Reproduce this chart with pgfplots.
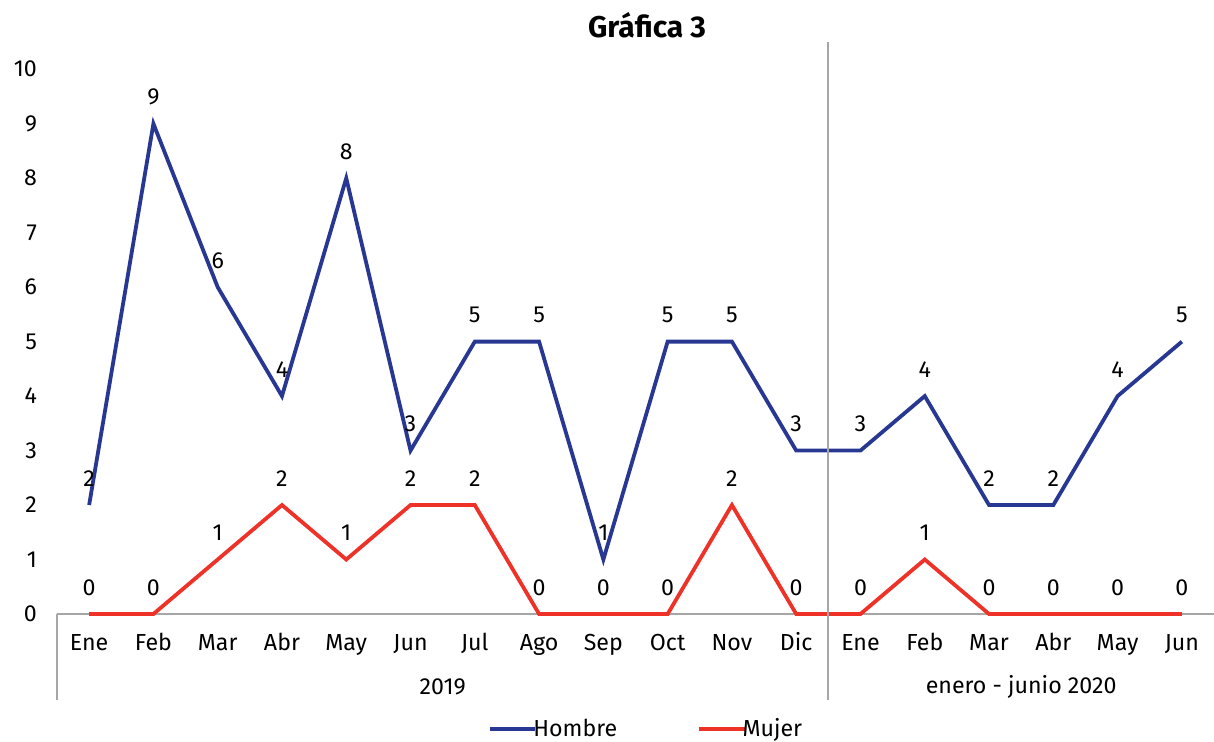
\documentclass[border=0pt]{standalone}
\usepackage{pgfplots}
\pgfplotsset{compat=1.18}
\usepackage{fontspec}
\setmainfont{Fira Sans}
\definecolor{hblue}{RGB}{40,56,146}
\definecolor{mred}{RGB}{238,50,40}
\definecolor{axgray}{RGB}{166,166,166}
\begin{document}
\begin{tikzpicture}
\useasboundingbox (-28.5pt,-64pt) rectangle (578.5pt,307pt);
\begin{axis}[
  scale only axis,
  width=578.5pt, height=286pt,
  xmin=-0.5, xmax=17.5, ymin=0, ymax=10.5,
  clip=false,
  font=\fontsize{11.6}{14}\selectfont,
  /pgf/number format/assume math mode=true,
  xtick={0,...,17},
  xticklabels={Ene,Feb,Mar,Abr,May,Jun,Jul,Ago,Sep,Oct,Nov,Dic,Ene,Feb,Mar,Abr,May,Jun},
  ytick={0,...,10},
  major tick length=0pt,
  axis x line*=bottom, axis y line*=left,
  x axis line style={draw=axgray, line width=1pt, -},
  y axis line style={draw=none},
  xticklabel style={anchor=base, yshift=-18.5pt},
  yticklabel style={xshift=-6.5pt},
  nodes near coords,
  every node near coord/.append style={black, yshift=5pt, font=\fontsize{11.6}{14}\selectfont},
  legend style={at={(0.51,-0.201)}, anchor=center, draw=none, legend columns=2,
    /tikz/every even column/.append style={column sep=38pt}, font=\fontsize{11.6}{14}\selectfont,
    inner xsep=0pt},
  legend image code/.code={\draw[#1] (0cm,0cm) -- (0.8cm,0cm);},
]
\addplot[hblue, line width=1.9pt, mark=none] coordinates {
(0,2) (1,9) (2,6) (3,4) (4,8) (5,3) (6,5) (7,5) (8,1) (9,5) (10,5) (11,3)
(12,3) (13,4) (14,2) (15,2) (16,4) (17,5)};
\addlegendentry{\hspace{-4pt}Hombre}
\addplot[mred, line width=1.9pt, mark=none] coordinates {
(0,0) (1,0) (2,1) (3,2) (4,1) (5,2) (6,2) (7,0) (8,0) (9,0) (10,2) (11,0)
(12,0) (13,1) (14,0) (15,0) (16,0) (17,0)};
\addlegendentry{\hspace{-4pt}Mujer}
\draw[axgray, line width=1pt] (axis cs:11.5,10.5) -- ([yshift=-43pt]axis cs:11.5,0);
\draw[axgray, line width=1pt] (axis cs:-0.5,0) -- ([yshift=-43pt]axis cs:-0.5,0);
\node at ([yshift=-36.5pt]axis cs:5.5,0) {2019};
\node at ([yshift=-36.5pt]axis cs:14.5,0) {enero - junio 2020};
\node[font=\fontsize{15}{17}\selectfont\bfseries] at ([yshift=8.5pt]rel axis cs:0.51,1) {Gráfica 3};
\end{axis}
\end{tikzpicture}
\end{document}
